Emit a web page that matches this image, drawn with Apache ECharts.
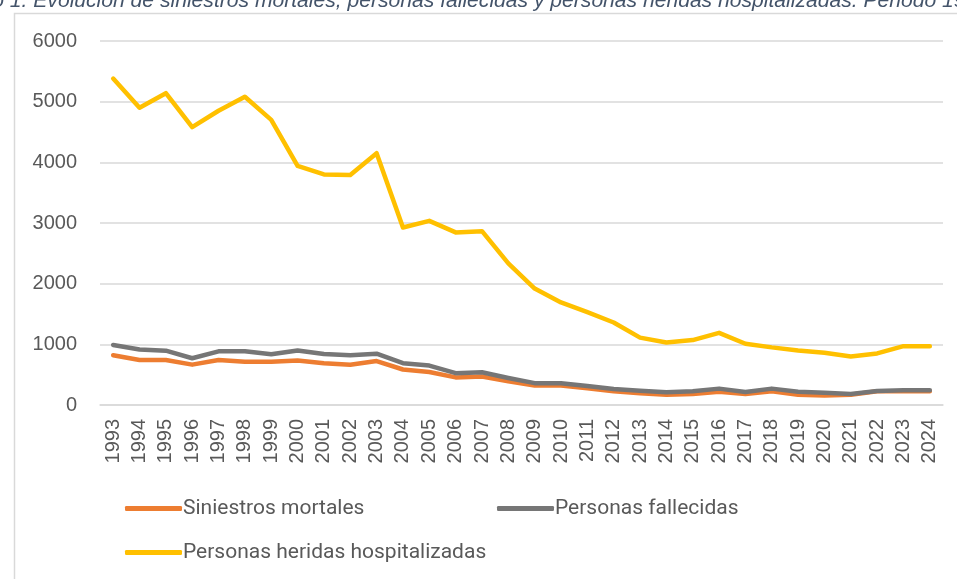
<!DOCTYPE html>
<html>
<head>
<meta charset="utf-8">
<script src="https://cdn.jsdelivr.net/npm/echarts@6/dist/echarts.min.js"></script>
<style>
html,body{margin:0;padding:0;background:#fff;}
#chart{width:957px;height:579px;}
</style>
</head>
<body>
<div id="chart"></div>
<script>
const years = ['1993','1994','1995','1996','1997','1998','1999','2000','2001','2002','2003','2004','2005','2006','2007','2008','2009','2010','2011','2012','2013','2014','2015','2016','2017','2018','2019','2020','2021','2022','2023','2024'];
const siniestrosMortales = [820,742,742,665,742,714,714,735,690,665,725,585,545,455,470,390,320,320,275,225,195,170,180,220,180,225,170,155,170,225,225,225];
const personasFallecidas = [990,915,895,770,885,885,835,900,840,820,845,690,650,525,540,445,360,360,315,265,235,210,225,270,215,270,220,200,180,230,245,245];
const personasHeridas = [5380,4900,5140,4580,4850,5080,4700,3940,3800,3790,4150,2925,3035,2845,2865,2335,1920,1690,1530,1360,1110,1030,1070,1190,1010,950,900,860,800,850,970,970];
const yTicks = [0,1000,2000,3000,4000,5000,6000];
const seriesNames = ['Siniestros mortales','Personas fallecidas','Personas heridas hospitalizadas'];
const seriesColors = ['#ED7D31','#767676','#FFC000'];
const titleText = 'Gráfico 1. Evolución de siniestros mortales, personas fallecidas y personas heridas hospitalizadas. Periodo 1993-2024';

const chart = echarts.init(document.getElementById('chart'));
const legendBase = {
  orient: 'horizontal',
  icon: 'roundRect',
  itemWidth: 57,
  itemHeight: 5,
  padding: 0,
  textStyle: {color: '#595959', fontSize: 21, fontFamily: 'Roboto', padding: [0,0,0,-4]}
};
chart.setOption({
  animation: false,
  backgroundColor: '#fff',
  graphic: [{
    type: 'rect', left: 12, top: 11, shape: {width: 1000, height: 620},
    style: {fill: 'none', stroke: '#d9d9d9', lineWidth: 1.5}, silent: true, z: -1
  }],
  title: {
    text: titleText, left: -69, top: -14,
    textStyle: {fontFamily: 'Liberation Sans', fontStyle: 'italic', fontWeight: 'normal', fontSize: 21.1, color: '#44546A'}
  },
  grid: {left: 100, right: 14, top: 41, bottom: 174, containLabel: false},
  xAxis: {
    type: 'category', data: years, boundaryGap: true,
    axisLine: {lineStyle: {color: '#d9d9d9', width: 1.5}},
    axisTick: {show: false},
    axisLabel: {rotate: 90, color: '#595959', fontSize: 20, fontFamily: 'Liberation Sans', margin: 14, interval: 0}
  },
  yAxis: {
    type: 'value', min: yTicks[0], max: yTicks[yTicks.length-1], interval: 1000,
    axisLine: {show: false}, axisTick: {show: false},
    splitLine: {lineStyle: {color: '#d9d9d9', width: 1.5}},
    axisLabel: {color: '#595959', fontSize: 20, fontFamily: 'Liberation Sans', margin: 23, formatter: function (v) { return String(v); }}
  },
  legend: [
    Object.assign({}, legendBase, {data: [seriesNames[0]], left: 125, top: 498}),
    Object.assign({}, legendBase, {data: [seriesNames[1]], left: 497, top: 498}),
    Object.assign({}, legendBase, {data: [seriesNames[2]], left: 125, top: 542})
  ],
  series: [
    {name: seriesNames[0], type: 'line', data: siniestrosMortales, symbol: 'none', lineStyle: {width: 4.5, color: seriesColors[0], cap: 'round', join: 'round'}, itemStyle: {color: seriesColors[0]}, z: 2},
    {name: seriesNames[1], type: 'line', data: personasFallecidas, symbol: 'none', lineStyle: {width: 4.5, color: seriesColors[1], cap: 'round', join: 'round'}, itemStyle: {color: seriesColors[1]}, z: 3},
    {name: seriesNames[2], type: 'line', data: personasHeridas, symbol: 'none', lineStyle: {width: 4.5, color: seriesColors[2], cap: 'round', join: 'round'}, itemStyle: {color: seriesColors[2]}, z: 4}
  ]
});
</script>
</body>
</html>
